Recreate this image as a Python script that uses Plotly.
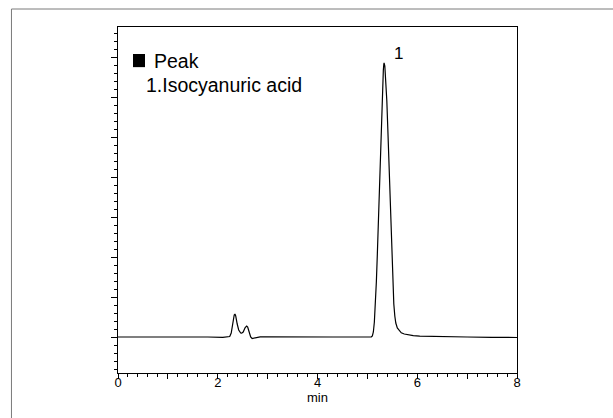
import plotly.graph_objects as go

# Retention time (min) and detector signal (arbitrary units)
time_min = [0.0, 0.5, 1.0, 1.3, 1.55, 1.8, 2.1, 2.2, 2.24, 2.27, 2.30, 2.33, 2.345, 2.36, 2.39,
            2.42, 2.46, 2.48, 2.51, 2.55, 2.58, 2.60, 2.63, 2.66, 2.69, 2.73, 2.78, 2.85, 2.95,
            3.3, 3.8, 4.3, 4.8, 5.0, 5.08, 5.10, 5.12, 5.14, 5.16, 5.18, 5.20, 5.22, 5.24,
            5.26, 5.28, 5.30, 5.32, 5.33, 5.335, 5.35, 5.37, 5.39, 5.41, 5.43, 5.45, 5.47, 5.49,
            5.51, 5.53, 5.55, 5.57, 5.60, 5.64, 5.68, 5.74, 5.82, 5.92, 6.05, 6.3, 6.6, 7.0, 7.5, 8.0]
signal = [0.0, 0.0, -0.02, 0.02, 0.05, 0.0, -0.03, 0.0, 0.05, 0.4, 1.4, 2.2, 2.3, 2.1, 1.3,
          0.7, 0.4, 0.38, 0.5, 0.95, 1.1, 1.0, 0.5, 0.0, -0.15, -0.12, -0.03, 0.02, 0.02,
          0.0, 0.02, 0.0, 0.0, 0.0, 0.02, 0.1, 0.5, 1.5, 3.2, 5.5, 8.3, 11.5, 15.0,
          18.6, 22.0, 24.8, 26.7, 27.3, 27.4, 27.1, 25.8, 23.6, 20.8, 17.6, 14.2, 10.8, 7.7,
          5.1, 3.3, 2.1, 1.4, 0.9, 0.6, 0.42, 0.3, 0.2, 0.13, 0.08, 0.04, 0.02, 0.0, -0.03, -0.05]

x_tick_vals = [0, 1, 2, 3, 4, 5, 6, 7, 8]
x_tick_text = ["0", "", "2", "", "4", "", "6", "", "8"]
y_tick_vals = [0, 4, 8, 12, 16, 20, 24, 28]

x_title = "min"
peak_label = "1"
peak_label_x = 5.62
peak_label_y = 28.35
legend_title = "Peak"
legend_item = "1.Isocyanuric acid"

FONT = "Liberation Sans, Arial, sans-serif"

fig = go.Figure()
fig.add_trace(go.Scatter(x=time_min, y=signal, mode="lines",
                         line=dict(color="black", width=1.2), showlegend=False,
                         hoverinfo="skip"))

fig.update_layout(
    width=613, height=418,
    margin=dict(l=118, r=96, t=27, b=45),
    paper_bgcolor="white", plot_bgcolor="white",
    font=dict(family=FONT, color="black", size=13),
    showlegend=False,
)

fig.update_xaxes(
    range=[0, 8], tickvals=x_tick_vals, ticktext=x_tick_text,
    ticks="outside", ticklen=5, tickwidth=1, tickcolor="black",
    minor=dict(dtick=0.2, tick0=0, ticks="outside", ticklen=3, tickcolor="black", showgrid=False),
    showline=True, linecolor="black", linewidth=1, mirror=True,
    showgrid=False, zeroline=False, ticklabelstandoff=-8,
    tickfont=dict(size=13, family=FONT, color="black"),
)
fig.update_yaxes(
    range=[-3.6, 31.0], tickvals=y_tick_vals, showticklabels=False,
    ticks="outside", ticklen=6, tickwidth=1, tickcolor="black",
    minor=dict(dtick=0.8, tick0=0, ticks="outside", ticklen=3, tickcolor="black", showgrid=False),
    showline=True, linecolor="black", linewidth=1, mirror=True,
    showgrid=False, zeroline=False,
)

# outer frame
fig.add_shape(type="rect", xref="paper", yref="paper",
              x0=-0.267, x1=1.6, y0=-0.5, y1=1.052,
              line=dict(color="#7a7a7a", width=1), fillcolor="rgba(0,0,0,0)", layer="below")
# legend square
fig.add_shape(type="rect", xref="paper", yref="paper",
              x0=0.0376, x1=0.0677, y0=0.884, y1=0.922,
              line=dict(color="black", width=0), fillcolor="black")

fig.add_annotation(x=0.086, y=0.9026, xref="paper", yref="paper", text=legend_title,
                   showarrow=False, xanchor="left", yanchor="middle",
                   font=dict(size=19.5, family=FONT, color="black"))
fig.add_annotation(x=0.064, y=0.832, xref="paper", yref="paper", text=legend_item,
                   showarrow=False, xanchor="left", yanchor="middle",
                   font=dict(size=19.5, family=FONT, color="black"))
fig.add_annotation(x=peak_label_x, y=peak_label_y, xref="x", yref="y", text=peak_label,
                   showarrow=False, xanchor="center", yanchor="middle",
                   font=dict(size=17, family=FONT, color="black"))
fig.add_annotation(x=0.5, y=-0.0694, xref="paper", yref="paper", text=x_title,
                   showarrow=False, xanchor="center", yanchor="middle",
                   font=dict(size=13, family=FONT, color="black"))

fig.write_html("out.html", post_script="document.body.style.margin='0';",
               config={"displayModeBar": False})
